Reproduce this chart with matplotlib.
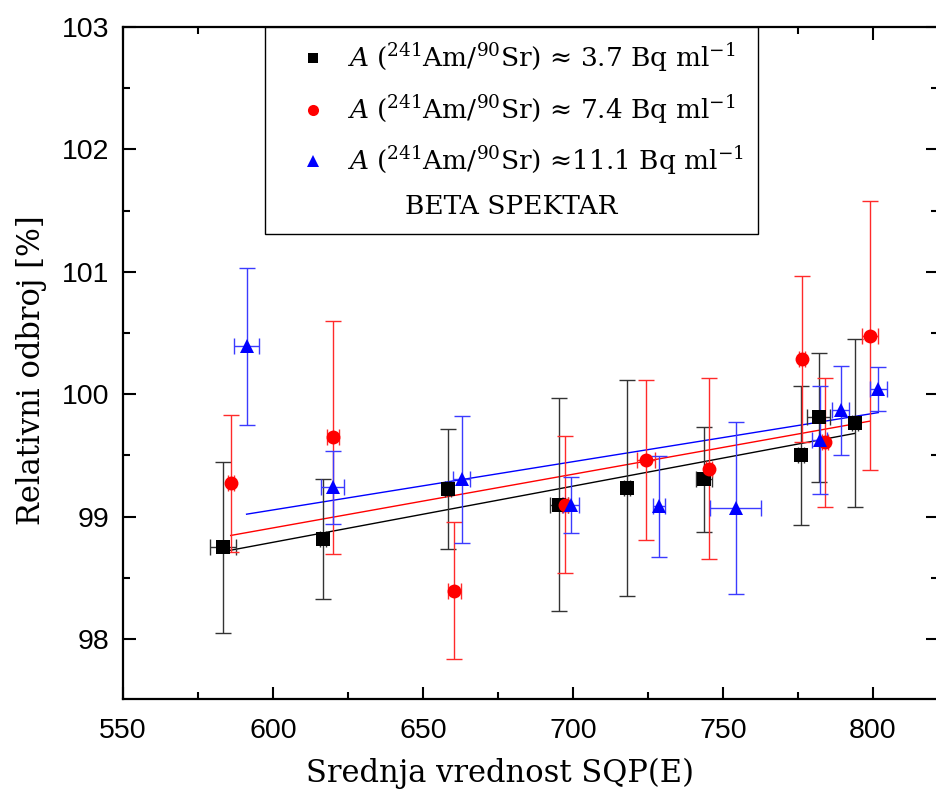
import numpy as np
import matplotlib
matplotlib.use("Agg")
import matplotlib.pyplot as plt
from matplotlib.lines import Line2D
from matplotlib.ticker import MultipleLocator

# --- data ---
x1 = [583.4, 616.6, 658.2, 695.4, 717.9, 743.7, 776.0, 781.9, 793.9]
y1 = [98.75, 98.815, 99.224, 99.096, 99.233, 99.306, 99.50, 99.81, 99.764]
ye1 = [0.70, 0.49, 0.49, 0.87, 0.88, 0.43, 0.566, 0.53, 0.685]
xe1 = [4.4, 1.0, 1.0, 3.0, 1.0, 2.8, 1.0, 3.8, 1.0]

x2 = [585.9, 619.9, 660.4, 697.3, 724.2, 745.3, 776.2, 784.0, 799.0]
y2 = [99.273, 99.647, 98.393, 99.096, 99.464, 99.39, 100.288, 99.606, 100.479]
ye2 = [0.56, 0.95, 0.56, 0.56, 0.655, 0.74, 0.68, 0.53, 1.10]
xe2 = [1.0, 2.0, 2.2, 1.0, 3.0, 1.0, 1.0, 1.0, 2.8]

x3 = [591.2, 619.9, 662.9, 699.3, 728.8, 754.2, 782.3, 789.2, 801.8]
y3 = [100.39, 99.24, 99.306, 99.096, 99.083, 99.069, 99.628, 99.867, 100.045]
ye3 = [0.64, 0.30, 0.52, 0.23, 0.41, 0.70, 0.44, 0.36, 0.18]
xe3 = [4.3, 3.9, 2.8, 2.6, 2.0, 8.4, 2.5, 2.8, 2.9]

# linear fit parameters (slope, intercept)
fit1 = (0.004587, 96.038)
fit2 = (0.004383, 96.278)
fit3 = (0.003941, 96.690)

labels = [r'$A$ ($^{241}$Am/$^{90}$Sr) ≈ 3.7 Bq ml$^{\mathregular{-1}}$',
          r'$A$ ($^{241}$Am/$^{90}$Sr) ≈ 7.4 Bq ml$^{\mathregular{-1}}$',
          r'$A$ ($^{241}$Am/$^{90}$Sr) ≈11.1 Bq ml$^{\mathregular{-1}}$']
legend_title = 'BETA SPEKTAR'
xlabel = 'Srednja vrednost SQP(E)'
ylabel = 'Relativni odbroj [%]'

plt.rcParams['mathtext.fontset'] = 'dejavuserif'

fig = plt.figure(figsize=(9.37, 7.89), dpi=100)
ax = fig.add_axes([123/937, 90/789, 815/937, 672/789])

series = [
    (x1, y1, xe1, ye1, fit1, 'black', '#333333', 's', 9.5),
    (x2, y2, xe2, ye2, fit2, 'red', '#ff2a2a', 'o', 10),
    (x3, y3, xe3, ye3, fit3, 'blue', '#3b3bff', '^', 10.5),
]
handles = []
for xs, ys, xe, ye, fit, col, ecol, mk, ms in series:
    ax.errorbar(xs, ys, yerr=ye, xerr=xe, fmt='none', ecolor=ecol,
                elinewidth=1.0, capsize=6, capthick=1.0, zorder=3)
    ax.plot(xs, ys, ls='none', marker=mk, color=col, markersize=ms,
            markeredgewidth=0, zorder=4)
    xx = np.array([min(xs), max(xs)])
    ax.plot(xx, fit[0] * xx + fit[1], color=col, lw=1.0, zorder=2)
    handles.append(Line2D([], [], ls='none', marker=mk, color=col,
                          markersize=ms * 0.8, markeredgewidth=0))

ax.set_xlim(550, 821.7)
ax.set_ylim(97.51, 103)
ax.xaxis.set_major_locator(MultipleLocator(50))
ax.xaxis.set_minor_locator(MultipleLocator(25))
ax.yaxis.set_major_locator(MultipleLocator(1))
ax.yaxis.set_minor_locator(MultipleLocator(0.5))
ax.tick_params(which='both', direction='in', top=True, right=True, width=1.5)
ax.tick_params(which='major', length=9, labelsize=20.5)
ax.tick_params(axis='x', which='major', pad=14)
ax.tick_params(axis='y', which='major', pad=10)
ax.tick_params(which='minor', length=5)
for lab in ax.get_xticklabels() + ax.get_yticklabels():
    lab.set_family('Liberation Sans')
for sp in ax.spines.values():
    sp.set_linewidth(1.6)

ax.set_xlabel(xlabel, family='DejaVu Serif', fontsize=22)
ax.set_ylabel(ylabel, family='DejaVu Serif', fontsize=22)
ax.xaxis.set_label_coords(0.4624, -0.087)
ax.yaxis.set_label_coords(-0.093, 0.49)

leg = ax.legend(handles, labels, title=legend_title, loc='upper left',
                bbox_to_anchor=(0.1742, 1.0), borderaxespad=0,
                prop={'family': 'DejaVu Serif', 'size': 19},
                title_fontproperties={'family': 'DejaVu Serif', 'size': 19},
                fancybox=False, edgecolor='black', framealpha=1,
                handletextpad=0.0, labelspacing=0.71, borderpad=0.55,
                handlelength=2.55)
leg.get_frame().set_linewidth(1.0)
leg._legend_box._children = leg._legend_box._children[::-1]
leg._legend_box.sep = 12

fig.savefig('out.png', dpi=100)
